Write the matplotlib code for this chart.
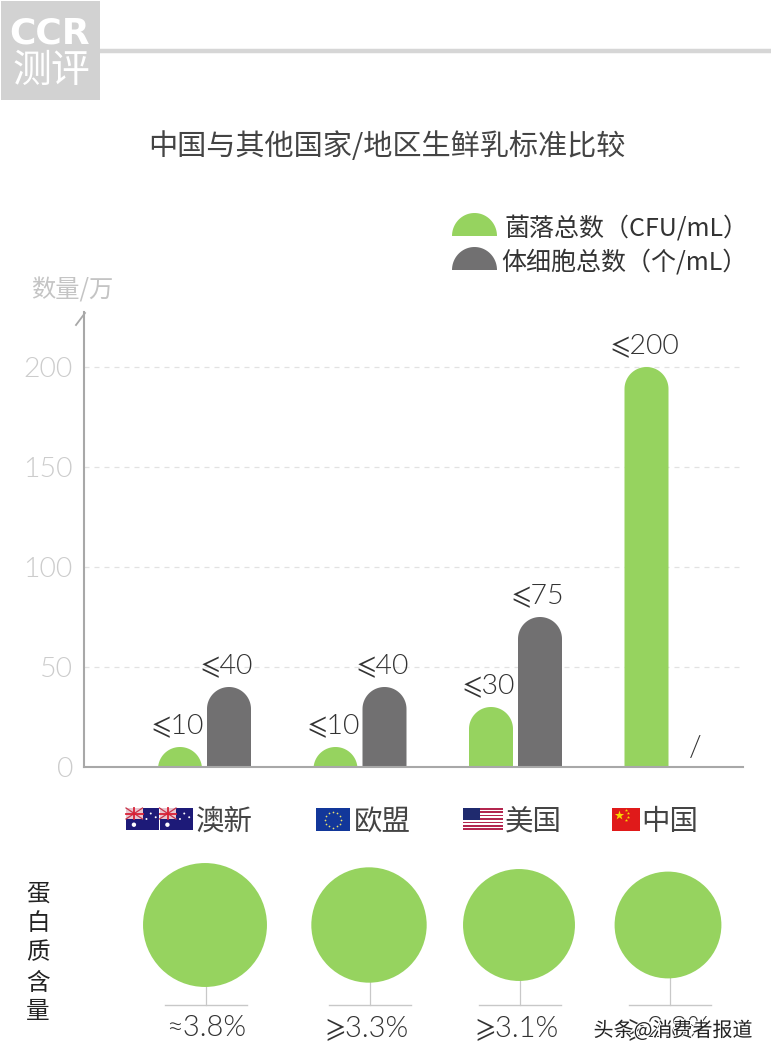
import numpy as np
import matplotlib
matplotlib.use("Agg")
import matplotlib.pyplot as plt
import matplotlib.patheffects as pe
from matplotlib.patches import Circle, PathPatch, Rectangle
from matplotlib.path import Path

plt.rcParams['font.family'] = ['Noto Sans CJK SC', 'DejaVu Sans']

# data
regions = ["澳新", "欧盟", "美国", "中国"]
colony_counts = [10, 10, 30, 200]
cell_counts = [40, 40, 75, None]
y_ticks = [0, 50, 100, 150, 200]
protein = [3.8, 3.3, 3.1, 2.8]
protein_signs = ["≈", "⩾", "⩾", "⩾"]

GREEN = "#96d35f"
GRAY = "#717071"
TEXT = "#444444"
LIGHT = "#cccccc"
# STIXGeneral ships with matplotlib and has the slanted signs
NUM_FONT = ['Lato', 'STIXGeneral', 'DejaVu Sans']

fig = plt.figure(figsize=(7.71, 10.57), dpi=100)

# background axes in pixels, used for everything outside the bar chart
bg = fig.add_axes([0, 0, 1, 1])
bg.set_xlim(0, 771)
bg.set_ylim(1057, 0)
bg.axis("off")

# logo and header line
bg.add_patch(Rectangle((1, 1), 99, 99, color="#d2d2d2", lw=0))
bg.plot([100, 771], [51, 51], color="#d6d6d6", lw=3.2, solid_capstyle="butt")
bg.text(50, 34, "CCR", color="white", fontsize=26, fontweight="bold", family=['DejaVu Sans'],
        ha="center", va="center")
bg.text(51, 71, "测评", color="white", fontsize=28, fontweight="light", ha="center", va="center")

bg.text(387, 147, "中国与其他国家/地区生鲜乳标准比较", color=TEXT, fontsize=21, fontweight="medium", ha="center", va="center")
bg.text(72, 290, "数量/万", color="#c4c4c4", fontsize=17.5, fontweight="light", ha="center", va="center")

# the half arrow on top of the y axis
bg.plot([85, 76], [313, 325], color="#a8a8a8", lw=1.3)


def dome_path(x0, x1, top, ry):
    # bar with a rounded top, the part below zero gets clipped by the axes
    cx = (x0 + x1) / 2
    rx = (x1 - x0) / 2
    t = np.linspace(np.pi, 0, 50)
    xs = cx + rx * np.cos(t)
    ys = top - ry + ry * np.sin(t)
    low = min(0, top - ry)
    verts = [(x0, low)] + list(zip(xs, ys)) + [(x1, low), (x0, low)]
    return Path(verts, closed=True)


# legend
legend_y = [236, 270]
legend_colors = [GREEN, GRAY]
legend_names = ["菌落总数（CFU/mL）", "体细胞总数（个/mL）"]
for ly, col, name in zip(legend_y, legend_colors, legend_names):
    t = np.linspace(np.pi, 0, 40)
    bg.fill(474.5 + 22.5 * np.cos(t), ly - 23 * np.sin(t), color=col, lw=0)
    bg.text(748, ly - 8, name, color="#333333", fontsize=18, fontweight="light",
            ha="right", va="center", family=['Noto Sans CJK SC'])

# bar chart
ax = fig.add_axes([84 / 771, 1 - 767 / 1057, (743 - 84) / 771, (767 - 312) / 1057])
ax.patch.set_alpha(0)
ax.set_ylim(0, 227.5)
ax.set_xlim((84 - 204.5) / 155.5, (743 - 204.5) / 155.5)
ax.set_xticks([])
ax.set_yticks(y_ticks)
ax.set_yticklabels(y_ticks, family=NUM_FONT, fontweight=300, fontsize=20.5, color=LIGHT)
ax.tick_params(axis="y", length=0, pad=8)
for side in ["top", "right"]:
    ax.spines[side].set_visible(False)
for side in ["left", "bottom"]:
    ax.spines[side].set_color("#a8a8a8")
    ax.spines[side].set_linewidth(1.5)
for tick in y_ticks[1:]:
    ax.axhline(tick, color="#e2e2e2", lw=0.9, ls=(0, (4, 4)), zorder=0)

bar_w = 44 / 155.5
offset = 24.5 / 155.5
for i, (a, b) in enumerate(zip(colony_counts, cell_counts)):
    for val, col, x in [(a, GREEN, i - offset), (b, GRAY, i + offset)]:
        if val is None:
            ax.annotate("/", (x, 0), xytext=(0, 14), textcoords="offset points", ha="center", va="center",
                        fontsize=21, fontweight=300, color="#333333", family=NUM_FONT)
            continue
        ax.add_patch(PathPatch(dome_path(x - bar_w / 2, x + bar_w / 2, val, 11), facecolor=col, lw=0, zorder=2))
        ax.annotate("⩽" + str(val), (x, val), xytext=(-1.5, 15.5), textcoords="offset points", ha="center", va="center",
                    fontsize=20.5, fontweight=300, color="#333333", family=NUM_FONT)


# flags, simplified
def au_flag(x, y, w, h):
    bg.add_patch(Rectangle((x, y), w, h, color="#1d1a78", lw=0))
    bg.add_patch(Rectangle((x, y), w * 0.5, h * 0.5, color="#e8c6d0", lw=0))
    bg.plot([x, x + w * 0.5], [y, y + h * 0.5], color="#c8354a", lw=0.9)
    bg.plot([x, x + w * 0.5], [y + h * 0.5, y], color="#c8354a", lw=0.9)
    bg.plot([x + w * 0.25] * 2, [y, y + h * 0.5], color="#d92035", lw=1.3)
    bg.plot([x, x + w * 0.5], [y + h * 0.25] * 2, color="#d92035", lw=1.3)
    bg.scatter([x + w * 0.24, x + w * 0.75, x + w * 0.9, x + w * 0.62], [y + h * 0.76, y + h * 0.25, y + h * 0.42, y + h * 0.5],
               s=[10, 2, 2, 2], color="white", lw=0, zorder=3)


au_flag(126, 808, 33, 22)
au_flag(159.5, 808, 33, 22)

bg.add_patch(Rectangle((316, 808), 34, 23, color="#12379a", lw=0))
star_t = np.linspace(0, 2 * np.pi, 12, endpoint=False)
bg.scatter(333 + 8 * np.cos(star_t), 819.5 + 8 * np.sin(star_t), s=1.5, color="#e8e070", lw=0, zorder=3)

for k in range(13):
    bg.add_patch(Rectangle((463, 808 + k * 22 / 13), 40, 22 / 13, color="#b3264f" if k % 2 == 0 else "white", lw=0))
bg.add_patch(Rectangle((463, 808), 17, 12, color="#1f2a6e", lw=0, zorder=3))

bg.add_patch(Rectangle((612, 808), 28, 23, color="#e01a1a", lw=0))
bg.scatter([619], [815], marker="*", s=50, color="#f8d800", lw=0, zorder=3)
bg.scatter([626, 628, 628, 626], [810, 813, 817, 820], marker="*", s=6, color="#f8d800", lw=0, zorder=3)

region_x = [224.5, 382.5, 533.5, 669.5]
for rx, name in zip(region_x, regions):
    bg.text(rx, 822, name, color=TEXT, fontsize=20.5, ha="center", va="center")

# protein circles, radius scaled linearly from the value
circle_x = [205, 369, 519, 668]
stem_x = [205.5, 370, 520, 670]
label_x = [206, 367, 517, 669]
for cx, sx, lx, val, sign in zip(circle_x, stem_x, label_x, protein, protein_signs):
    r = 29.4 + 8.57 * val
    bg.plot([sx, sx], [925 + r - 2, 1005], color="#c8c8c8", lw=0.9)
    bg.plot([sx - 41, sx + 41], [1005, 1005], color="#c8c8c8", lw=1.0)
    bg.add_patch(Circle((cx, 925), r, color=GREEN, lw=0, zorder=3))
    bg.text(lx, 1028, f"{sign}{val}%", color="#333333", fontsize=21, fontweight=300,
            ha="center", va="center", family=NUM_FONT)

protein_title = "蛋白质含量"
title_y = [894, 923, 953, 983, 1012]
for ch, ty in zip(protein_title, title_y):
    bg.text(38, ty, ch, color="#222222", fontsize=17, fontweight="light", ha="center", va="center")

# watermark
bg.text(673, 1031, "头条@消费者报道", color="#222222", fontsize=14.4, ha="center", va="center", zorder=5,
        path_effects=[pe.withStroke(linewidth=1.5, foreground="white")])

fig.savefig("out.png", dpi=100)
